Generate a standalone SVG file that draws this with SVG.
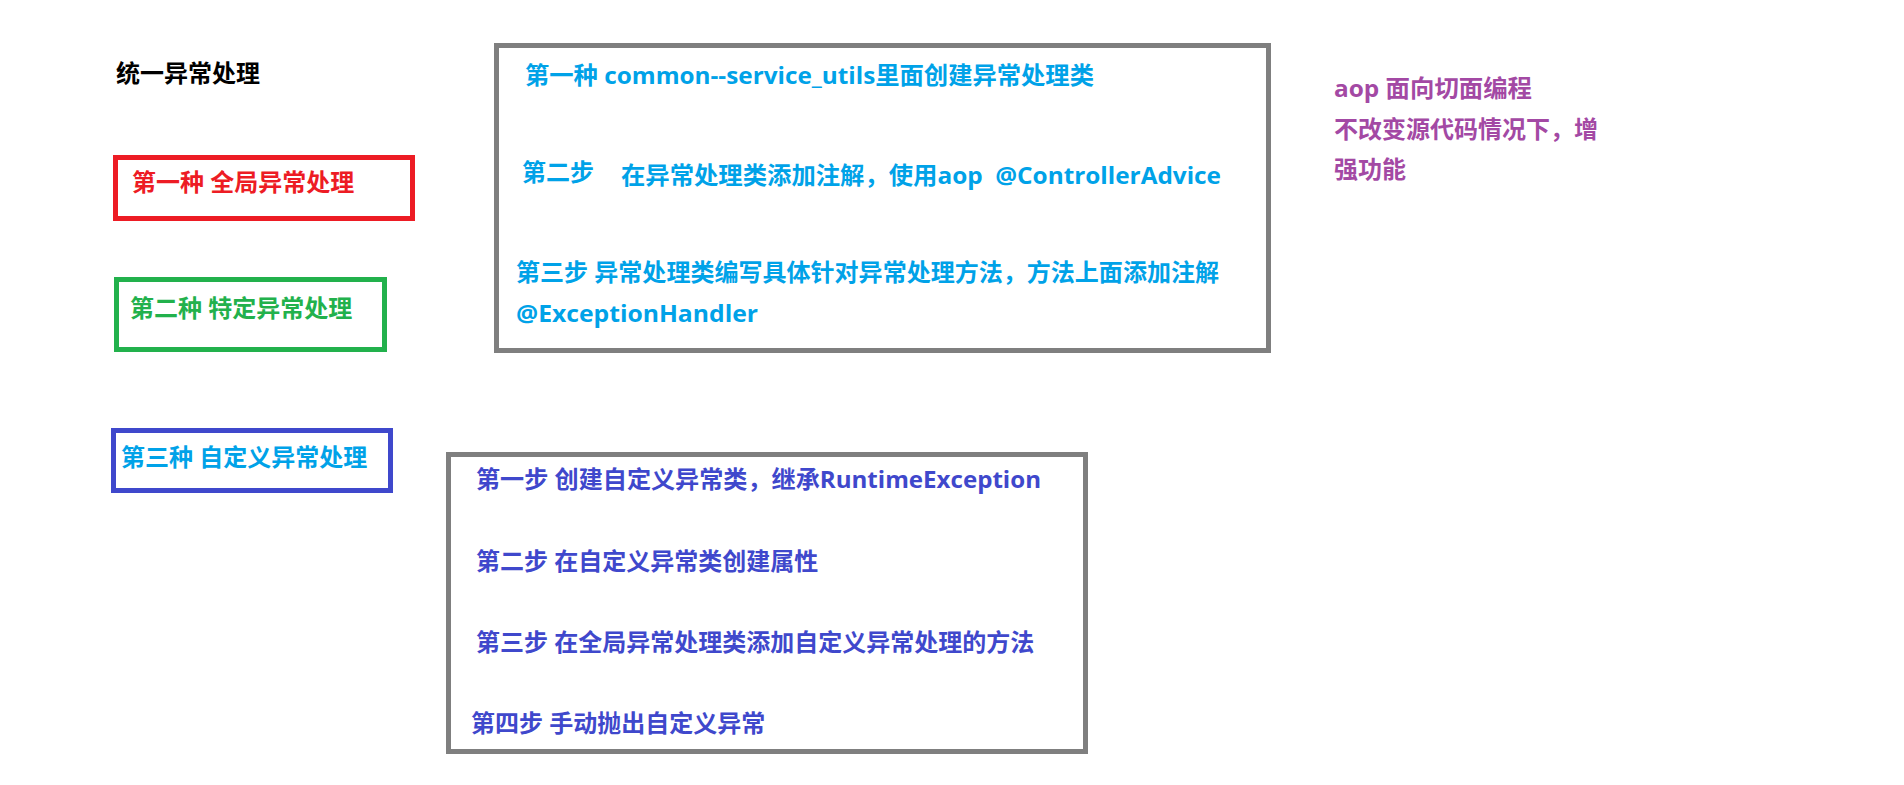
<svg xmlns="http://www.w3.org/2000/svg" width="1904" height="785" viewBox="0 0 1904 785">
<style>
  text { font-family: "Open Sans", "Noto Sans CJK SC", sans-serif; font-weight: bold; font-size: 24px; }
  .box { fill: #ffffff; stroke-width: 5; }
  .gray { stroke: #7f7f7f; }
  .red { stroke: #ed1c24; }
  .green { stroke: #22b14c; }
  .indigo { stroke: #3f48cc; }
  .tBlack { fill: #000000; }
  .tRed { fill: #ed1c24; }
  .tGreen { fill: #22b14c; }
  .tCyan { fill: #00a2e8; }
  .tIndigo { fill: #3f48cc; }
  .tPurple { fill: #a349a4; }
</style>
<rect x="0" y="0" width="1904" height="785" fill="#ffffff"/>

<g id="title">
  <text class="tBlack" x="116" y="82">统一异常处理</text>
</g>

<g id="global-exception">
  <rect class="box red" x="115.5" y="157.5" width="297" height="61"/>
  <text class="tRed" x="132" y="191">第一种 全局异常处理</text>
</g>

<g id="specific-exception">
  <rect class="box green" x="116.5" y="279.5" width="268" height="70"/>
  <text class="tGreen" x="130" y="317">第二种 特定异常处理</text>
</g>

<g id="custom-exception">
  <rect class="box indigo" x="113.5" y="430.5" width="277" height="60"/>
  <text class="tCyan" x="121" y="466">第三种 自定义异常处理</text>
</g>

<g id="global-steps">
  <rect class="box gray" x="496.5" y="45.5" width="772" height="305"/>
  <text class="tCyan" x="525" y="84" textLength="569" lengthAdjust="spacingAndGlyphs">第一种 common--service_utils里面创建异常处理类</text>
  <text class="tCyan" x="522" y="181">第二步</text>
  <text class="tCyan" x="621" y="184" textLength="600" lengthAdjust="spacingAndGlyphs">在异常处理类添加注解，使用aop&#160; @ControllerAdvice</text>
  <text class="tCyan" x="516" y="281" textLength="703" lengthAdjust="spacingAndGlyphs">第三步 异常处理类编写具体针对异常处理方法，方法上面添加注解</text>
  <text class="tCyan" x="516" y="322" textLength="242" lengthAdjust="spacingAndGlyphs">@ExceptionHandler</text>
</g>

<g id="aop-note">
  <text class="tPurple" x="1334" y="97" textLength="198" lengthAdjust="spacingAndGlyphs">aop 面向切面编程</text>
  <text class="tPurple" x="1334" y="138">不改变源代码情况下，增</text>
  <text class="tPurple" x="1334" y="178">强功能</text>
</g>

<g id="custom-steps">
  <rect class="box gray" x="448.5" y="454.5" width="637" height="297"/>
  <text class="tIndigo" x="476" y="488" textLength="565" lengthAdjust="spacingAndGlyphs">第一步 创建自定义异常类，继承RuntimeException</text>
  <text class="tIndigo" x="476" y="570">第二步 在自定义异常类创建属性</text>
  <text class="tIndigo" x="476" y="651">第三步 在全局异常处理类添加自定义异常处理的方法</text>
  <text class="tIndigo" x="471" y="732">第四步 手动抛出自定义异常</text>
</g>

<g id="connectors"></g>
</svg>
